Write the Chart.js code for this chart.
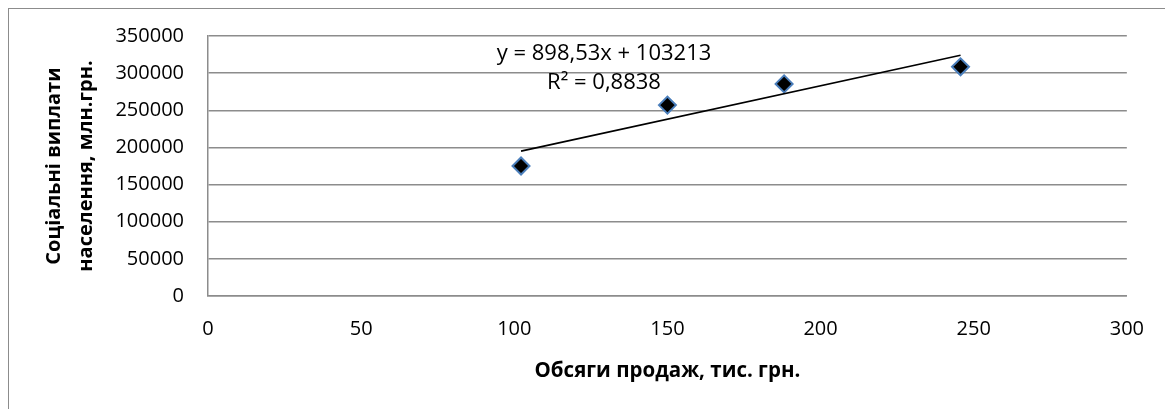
<!DOCTYPE html>
<html>
<head>
<meta charset="utf-8">
<script src="https://cdn.jsdelivr.net/npm/chart.js@4"></script>
<style>
  body { margin: 0; background: #fff; }
  #frame { position: absolute; left: 8px; top: 8px; width: 1300px; height: 500px; border: 1px solid #8c8c8c; }
  #c { position: absolute; left: 0; top: 0; }
</style>
</head>
<body>
<div id="frame"></div>
<canvas id="c" width="1165" height="409"></canvas>
<script>
// values
const salesVolume = [102.2, 150.0, 188.1, 245.7];          // тис. грн.
const socialPayments = [175000, 257000, 285500, 308500];    // млн.грн.
const xTicks = [0, 50, 100, 150, 200, 250, 300];
const yTicks = [0, 50000, 100000, 150000, 200000, 250000, 300000, 350000];
// linear trend shown on the chart
const trendSlope = 898.53;
const trendIntercept = 103213;
const trendLabel = ['y = 898,53x + 103213', 'R² = 0,8838'];

const FONT = "'Open Sans', 'Noto Sans', sans-serif";

const points = salesVolume.map((x, i) => ({ x: x, y: socialPayments[i] }));
const xLo = Math.min(...salesVolume), xHi = Math.max(...salesVolume);
const trend = [xLo, xHi].map(x => ({ x: x, y: trendSlope * x + trendIntercept }));

// equation text, placed above the trend line
const eqPlugin = {
  id: 'eq',
  afterDatasetsDraw(chart) {
    const ctx = chart.ctx;
    const xs = chart.scales.x, ys = chart.scales.y;
    const cx = xs.getPixelForValue(129.3);
    const cy = ys.getPixelForValue(325500);
    ctx.save();
    ctx.fillStyle = '#000';
    ctx.font = '22px ' + FONT;
    ctx.textAlign = 'center';
    ctx.textBaseline = 'middle';
    ctx.fillText(trendLabel[0], cx, cy);
    ctx.fillText(trendLabel[1], cx, cy + 29);
    ctx.restore();
  }
};

new Chart(document.getElementById('c'), {
  type: 'scatter',
  data: {
    datasets: [
      {
        type: 'line',
        data: trend,
        borderColor: '#000',
        borderWidth: 1.6,
        pointRadius: 0,
        fill: false
      },
      {
        data: points,
        pointStyle: 'rectRot',
        pointRadius: 8.5,
        pointHoverRadius: 8.5,
        backgroundColor: '#000',
        borderColor: '#4a7ebb',
        borderWidth: 2
      }
    ]
  },
  options: {
    responsive: false,
    animation: false,
    layout: { padding: { left: 0, top: 36, right: 36, bottom: 26 } },
    plugins: { legend: { display: false }, tooltip: { enabled: false } },
    scales: {
      x: {
        type: 'linear',
        min: 0, max: 300,
        afterBuildTicks: s => { s.ticks = xTicks.map(v => ({ value: v })); },
        afterFit: s => { s.height = 87; },
        grid: { display: false, drawTicks: false },
        border: { display: true, color: '#8c8c8c', width: 1.5 },
        ticks: { padding: 21, color: '#000', font: { family: FONT, size: 20 }, callback: v => String(v) },
        title: {
          display: true,
          text: 'Обсяги продаж, тис. грн.',
          color: '#000',
          padding: 0,
          font: { family: FONT, size: 20.5, weight: 'bold' }
        }
      },
      y: {
        type: 'linear',
        min: 0, max: 350000,
        afterBuildTicks: s => { s.ticks = yTicks.map(v => ({ value: v })); },
        afterFit: s => { s.width = 208; },
        grid: { color: '#8c8c8c', lineWidth: 1.5, drawTicks: false },
        border: { display: true, color: '#8c8c8c', width: 1.5 },
        ticks: { padding: 24, color: '#000', font: { family: FONT, size: 20 }, callback: v => String(v) },
        title: {
          display: true,
          text: ['Соціальні виплати', 'населення, млн.грн.'],
          color: '#000',
          padding: { top: 38, bottom: 0 },
          font: { family: FONT, size: 20, weight: 'bold', lineHeight: 1.6 }
        }
      }
    }
  },
  plugins: [eqPlugin]
});
</script>
</body>
</html>
